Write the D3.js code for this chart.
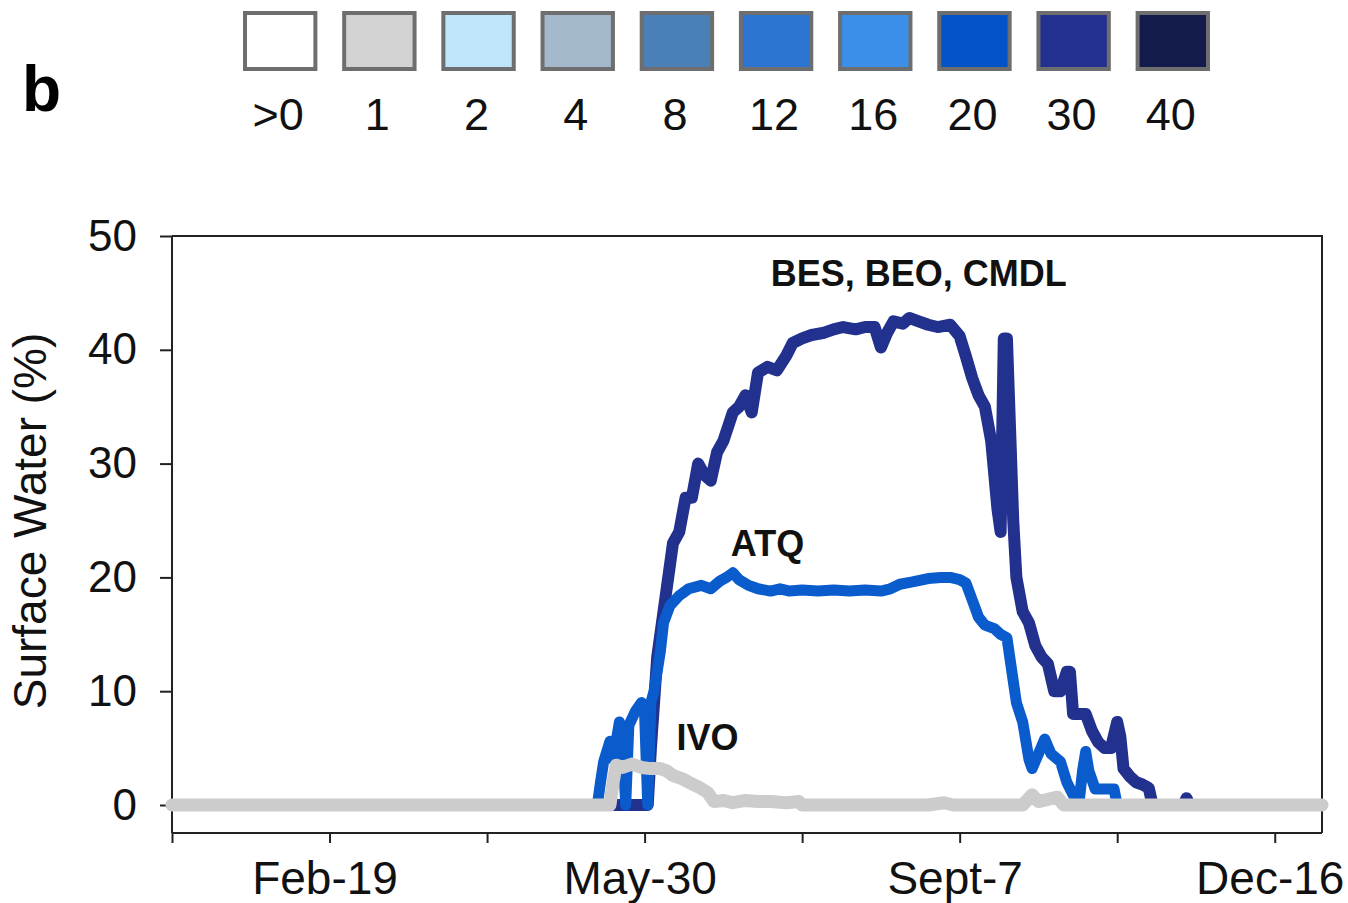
<!doctype html>
<html lang="en">
<head>
<meta charset="utf-8">
<title>Surface Water</title>
<script src="https://d3js.org/d3.v7.min.js"></script>
<style>
  body { margin: 0; background: #fff; }
  svg { display: block; font-family: "Liberation Sans", Arial, sans-serif; }
</style>
</head>
<body>
<script>
// legend classes
var legendLabels = ['>0', '1', '2', '4', '8', '12', '16', '20', '30', '40'];
var legendColors = ['#ffffff', '#d2d2d2', '#bfe5fa', '#a4b8cc', '#4a7fb8',
                    '#2b74d0', '#3b8fe8', '#0454c8', '#24308f', '#121b4a'];

// x axis: day of year, labelled every 100 days
var tickDays = [0, 50, 100, 150, 200, 250, 300, 350];
var labelDays = [50, 150, 250, 350];
var labelText = ['Feb-19', 'May-30', 'Sept-7', 'Dec-16'];
var yTicks = [0, 10, 20, 30, 40, 50];

// series, [day, surface water %]
var besDays = [0,150,151,152,153,154,155,157,159,161,163,165,167,169,171,173,175,178,180,182,184,186,189,192,195,197,200,203,207,210,213,217,220,223,225,227,229,232,234,237,240,243,247,250,252,254,256,258,260,261,262,263,264,265,266,267,268,270,272,274,276,278,280,282,284,285,286,288,290,292,294,296,298,300,301,302,304,306,308,310,311,312,321,322,323,365];
var besVals = [0,0,0,5,9,13,15,19,23,24,27,27,30,29,28.5,31,32,34.5,35,36,34.5,38,38.5,38.2,39.5,40.6,41,41.3,41.5,41.8,42,41.8,42,42,40.2,41.5,42.5,42.3,42.8,42.5,42.2,42,42.2,41.2,39.4,37.5,36,35,32,29,26,24,41,41,33,25,20,17,16,14,13,12.4,10,10,11.7,11.7,8,8,8,6.5,5.5,5,5,7.3,6,3.2,2.5,2,1.8,1.5,0.3,0,0,0.6,0,0];

var atqDays = [0,135,136,137,139,140,142,143,144,145,147,149,150,151,152,153,155,156,158,161,164,168,171,174,176,178,180,183,186,190,193,196,200,205,210,215,220,225,228,231,235,240,244,247,250,252,254,256,258,261,263,265,267,268,270,272,273,275,277,279,282,284,286,288,289,290,291,293,296,299,300,365];
var atqVals = [0,0,2,3.8,5.6,4,7.3,6,0,7,8.2,9,8,0,9,10,13.5,16,17.5,18.4,19,19.3,19,19.7,20,20.4,19.8,19.3,19,18.8,19,18.8,18.9,18.8,18.9,18.8,18.9,18.8,19,19.4,19.6,19.9,20,20,19.8,19.5,18,16.5,15.8,15.5,15,14.7,10.9,9,7.3,4,3.2,4.5,5.8,4.5,3.8,2,0.9,0.5,3,4.7,3,1.4,1.4,1.4,0,0];

var ivoDays = [0,139,140,141,143,146,149,152,155,157,159,162,164,167,170,172,175,178,182,186,190,195,199,200,240,245,248,270,272,273,275,278,281,283,365];
var ivoVals = [0,0,2,3.5,3.3,3.6,3.3,3.2,3.2,3,2.6,2.3,2,1.6,1.1,0.3,0.4,0.2,0.4,0.3,0.3,0.2,0.3,0,0,0.2,0,0,0.6,0.9,0.3,0.5,0.7,0,0];

var width = 1348,
    height = 903;

var svg = d3.select('body')
  .append('svg')
  .attr('width', width)
  .attr('height', height);

// panel letter
svg.append('text')
  .attr('x', 22)
  .attr('y', 111)
  .attr('font-size', 64)
  .attr('font-weight', 'bold')
  .text('b');

// legend row of boxes
var legX = d3.scaleBand().domain(legendLabels).range([243, 1210]).paddingInner(0.25).paddingOuter(0);

var leg = svg.append('g').selectAll('g')
  .data(legendLabels)
  .enter()
  .append('g');

leg.append('rect')
  .attr('x', d => legX(d) + 2)
  .attr('y', 13)
  .attr('width', legX.bandwidth() - 4)
  .attr('height', 56)
  .attr('fill', (d, i) => legendColors[i])
  .attr('stroke', '#6e6e6e')
  .attr('stroke-width', 4);

leg.append('text')
  .attr('x', d => legX(d) + legX.bandwidth() / 2 - 2)
  .attr('y', 130)
  .attr('text-anchor', 'middle')
  .attr('font-size', 45)
  .attr('fill', '#111')
  .text(d => d);

// chart area
var plotLeft = 172, plotRight = 1322, plotTop = 236, plotBottom = 833;

var x = d3.scaleLinear().domain([0, 365]).range([plotLeft, plotRight]);
var y = d3.scaleLinear().domain([0, 50]).range([805, plotTop]);

// frame (top and right)
svg.append('path')
  .attr('d', `M${plotLeft},${plotTop}H${plotRight}V${plotBottom}`)
  .attr('fill', 'none')
  .attr('stroke', '#222')
  .attr('stroke-width', 2);

var xAxis = svg.append('g')
  .attr('transform', `translate(0,${plotBottom})`)
  .call(d3.axisBottom(x)
    .tickValues(tickDays)
    .tickSize(10)
    .tickPadding(18)
    .tickFormat(d => { var i = labelDays.indexOf(d); return i < 0 ? '' : labelText[i]; }));

var yAxis = svg.append('g')
  .attr('transform', `translate(${plotLeft},0)`)
  .call(d3.axisLeft(y)
    .tickValues(yTicks)
    .tickSize(12)
    .tickPadding(23));

// axis lines run to the frame corners
yAxis.select('.domain').attr('d', `M0,${plotTop}V${plotBottom}`);
xAxis.select('.domain').attr('d', `M${plotLeft},0H${plotRight}`);

svg.selectAll('.domain').attr('stroke', '#222').attr('stroke-width', 2);
svg.selectAll('.tick line').attr('stroke', '#222').attr('stroke-width', 2);
xAxis.selectAll('text').attr('font-size', 46).attr('dx', -5).attr('fill', '#111').attr('font-family', null);
yAxis.selectAll('text').attr('font-size', 44).attr('fill', '#111').attr('font-family', null);

svg.append('text')
  .attr('transform', 'translate(46,521) rotate(-90)')
  .attr('text-anchor', 'middle')
  .attr('font-size', 46)
  .attr('fill', '#111')
  .text('Surface Water (%)');

// lines
var line = d3.line()
  .x(d => x(d[0]))
  .y(d => y(d[1]));

var series = [
  { days: besDays, vals: besVals, color: '#22308e', w: 12 },
  { days: atqDays, vals: atqVals, color: '#0a5ccc', w: 11 },
  { days: ivoDays, vals: ivoVals, color: '#cccccc', w: 13 }
];

svg.append('g').selectAll('path')
  .data(series)
  .enter()
  .append('path')
  .attr('d', s => line(s.days.map((d, i) => [d, s.vals[i]])))
  .attr('fill', 'none')
  .attr('stroke', s => s.color)
  .attr('stroke-width', s => s.w)
  .attr('stroke-linejoin', 'round')
  .attr('stroke-linecap', 'round');

// series labels
var seriesLabels = [
  { text: 'BES, BEO, CMDL', day: 237, val: 45.6 },
  { text: 'ATQ', day: 189, val: 21.9 },
  { text: 'IVO', day: 170, val: 4.8 }
];

svg.append('g').selectAll('text')
  .data(seriesLabels)
  .enter()
  .append('text')
  .attr('x', d => x(d.day))
  .attr('y', d => y(d.val))
  .attr('text-anchor', 'middle')
  .attr('font-size', 36)
  .attr('font-weight', 'bold')
  .attr('fill', '#111')
  .text(d => d.text);
</script>
</body>
</html>
